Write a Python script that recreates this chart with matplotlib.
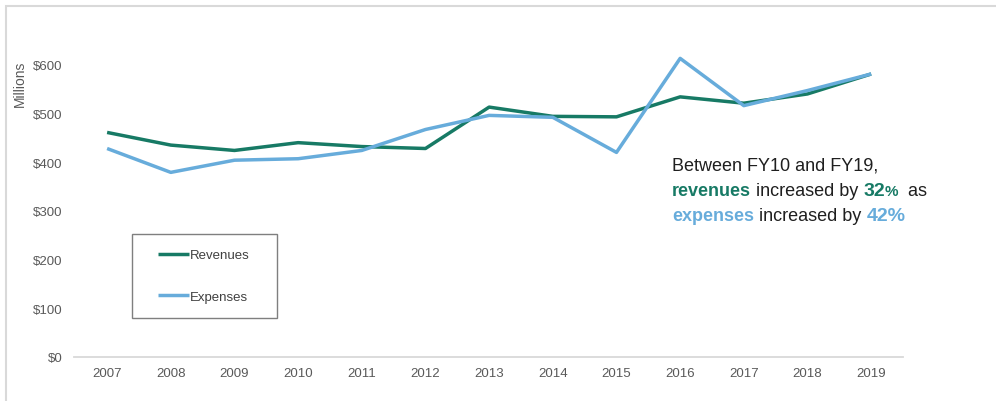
import matplotlib.pyplot as plt
from matplotlib.patches import Rectangle

plt.rcParams['font.family'] = ['Liberation Sans', 'DejaVu Sans']

years = [2007, 2008, 2009, 2010, 2011, 2012, 2013, 2014, 2015, 2016, 2017, 2018, 2019]
revenues = [461, 435, 424, 440, 432, 428, 513, 494, 493, 534, 521, 540, 581]
expenses = [428, 379, 404, 407, 424, 467, 496, 492, 420, 613, 516, 547, 581]
y_ticks = [0, 100, 200, 300, 400, 500, 600]
y_labels = ['$0', '$100', '$200', '$300', '$400', '$500', '$600']

green = '#177a65'
blue = '#67acdb'
grey_text = '#595959'

W, H = 996, 402
fig = plt.figure(figsize=(W / 100, H / 100), dpi=100)
ax = fig.add_axes([74 / W, 44 / H, 829 / W, 341 / H])

ax.plot(years, revenues, color=green, lw=2.5, label='Revenues', solid_capstyle='butt')
ax.plot(years, expenses, color=blue, lw=2.5, label='Expenses', solid_capstyle='butt')

ax.set_xlim(2006.48, 2019.5)
ax.set_ylim(0, 700)
ax.set_xticks(years)
ax.set_xticklabels([str(y) for y in years])
ax.set_yticks(y_ticks)
ax.set_yticklabels(y_labels)
ax.tick_params(length=0, labelsize=9.5, labelcolor=grey_text)
ax.tick_params(axis='y', pad=8.5)
ax.tick_params(axis='x', pad=7)
for side in ['top', 'right', 'left']:
    ax.spines[side].set_visible(False)
ax.spines['bottom'].set_color('#d9d9d9')
ax.spines['bottom'].set_linewidth(1.3)

fig.text(20 / W, 1 - 84 / H, 'Millions', rotation=90, ha='center', va='center',
         fontsize=10, color=grey_text)

# legend with a separate frame
leg = ax.legend(loc='center', bbox_to_anchor=(204 / W, 1 - 277 / H),
                bbox_transform=fig.transFigure, frameon=False, fontsize=9.5,
                handlelength=2.35, handletextpad=0.05, labelspacing=2.2,
                borderpad=0)
for t in leg.get_texts():
    t.set_color('#404040')
fig.patches.append(Rectangle((132 / W, 1 - 319 / H), 145 / W, 84 / H,
                             transform=fig.transFigure, fill=False,
                             edgecolor='#7f7f7f', lw=1.0))

# outer frame
fig.patches.append(Rectangle((6 / W, -0.1), 1.2, 1.1 - 7 / H,
                             transform=fig.transFigure, fill=False,
                             edgecolor='#d9d9d9', lw=1.5))

# multi-coloured note
renderer = fig.canvas.get_renderer()
dark = '#1f1f1f'
lines = [
    [('Between FY10 and FY19,', dark, 'normal', 13)],
    [('revenues', green, 'bold', 13), (' increased by ', dark, 'normal', 13),
     ('32', green, 'bold', 14), ('%', green, 'bold', 11), ('  as', dark, 'normal', 13)],
    [('expenses', blue, 'bold', 13), (' increased by ', dark, 'normal', 13),
     ('42%', blue, 'bold', 14)],
]
baselines = [170.5, 196, 221]
x0 = 672
for parts, base in zip(lines, baselines):
    x = x0
    for s, c, w, fs in parts:
        t = fig.text(x / W, 1 - base / H, s, color=c, fontweight=w, fontsize=fs,
                     ha='left', va='baseline')
        x += t.get_window_extent(renderer).width

fig.savefig('out.png', dpi=100)
